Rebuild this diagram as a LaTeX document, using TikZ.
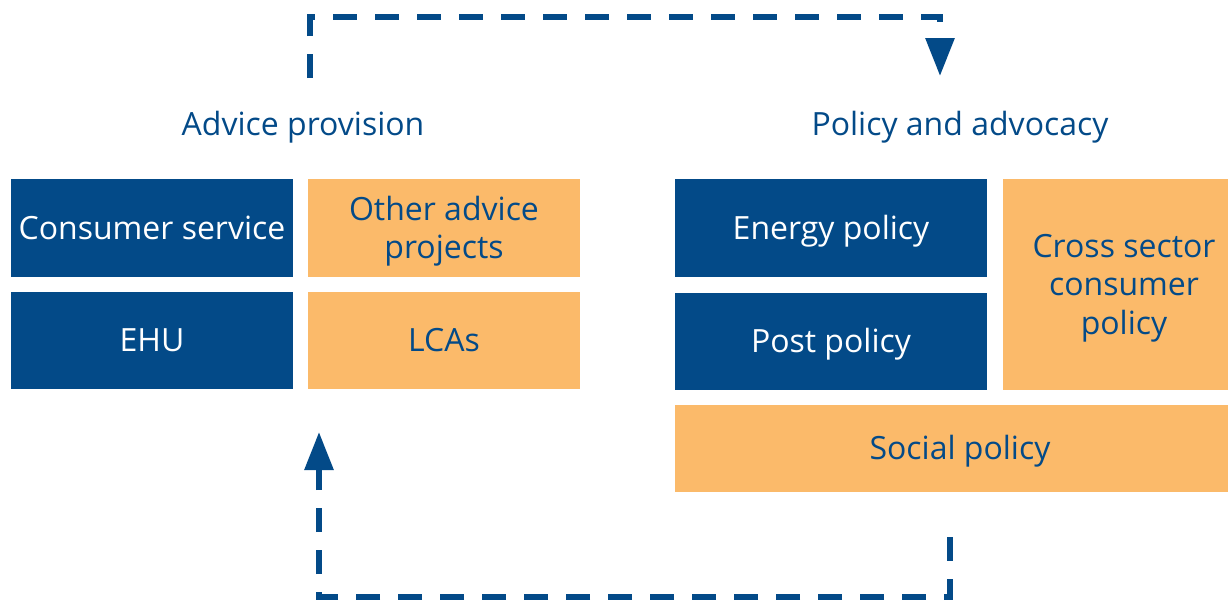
\documentclass[tikz,border=0pt]{standalone}
\usepackage{fontspec}
\setmainfont{Open Sans}
\usepackage{xcolor}
\usepackage{tikz}
\usetikzlibrary{positioning, arrows.meta, calc}

\definecolor{navy}{HTML}{034A88}
\definecolor{sand}{HTML}{FBBA6A}

\begin{document}
\begin{tikzpicture}[
    x=0.75pt, y=-0.75pt,
    every node/.style={font=\fontsize{24}{28.8}\selectfont, align=center, inner sep=0pt,
                       text height=17.1pt, text depth=0pt},
    twolines/.style={text height=45.9pt},
    threelines/.style={text height=74.7pt},
    darkbox/.style={rectangle, fill=navy, text=white},
    lightbox/.style={rectangle, fill=sand, text=navy},
    heading/.style={text=navy},
    flow/.style={navy, line width=4.5pt, dash pattern=on 18pt off 13.5pt,
                 -{Triangle[width=21pt, length=28.5pt]}}
]
    \useasboundingbox (0,0) rectangle (1228,601);

    % Advice provision
    \node[heading] (advice) at (303,124) {Advice provision};
    \node[darkbox, minimum width=211.5pt, minimum height=73.5pt] (consumer) at (152,228) {Consumer service};
    \node[lightbox, twolines, minimum width=204pt, minimum height=73.5pt] (other) at (444,228) {Other advice\\projects};
    \node[darkbox, minimum width=211.5pt, minimum height=72.75pt] (ehu) at (152,340.5) {EHU};
    \node[lightbox, minimum width=204pt, minimum height=72.75pt] (lcas) at (444,340.5) {LCAs};

    % Policy and advocacy
    \node[heading] (policy) at (960,124) {Policy and advocacy};
    \node[darkbox, minimum width=234pt, minimum height=73.5pt] (energy) at (831,228) {Energy policy};
    \node[darkbox, minimum width=234pt, minimum height=72.75pt] (post) at (831,341.5) {Post policy};
    \node[lightbox, minimum width=168.75pt, minimum height=158.25pt] (cross) at (1115.5,284.5) {};
    \node[heading, threelines] (crossText) at ($(cross.center)+(8.5,0)$) {Cross sector\\consumer\\policy};
    \node[lightbox, minimum width=414.75pt, minimum height=65.25pt] (social) at (951.5,448.5) {};
    \node[heading] (socialText) at ($(social.center)+(8.5,0)$) {Social policy};

    % Feedback loops
    \coordinate (topStart) at (310,78);
    \coordinate (topLeft) at (310,17);
    \coordinate (topRight) at (940,17);
    \coordinate (topEnd) at (940,76);
    \draw[flow] (topStart) -- (topLeft) -- (topRight) -- (topEnd);

    \coordinate (botStart) at (950,537);
    \coordinate (botRight) at (950,597);
    \coordinate (botLeft) at (319,597);
    \coordinate (botEnd) at (319,432);
    \draw[flow] (botStart) -- (botRight) -- (botLeft) -- (botEnd);
\end{tikzpicture}
\end{document}
